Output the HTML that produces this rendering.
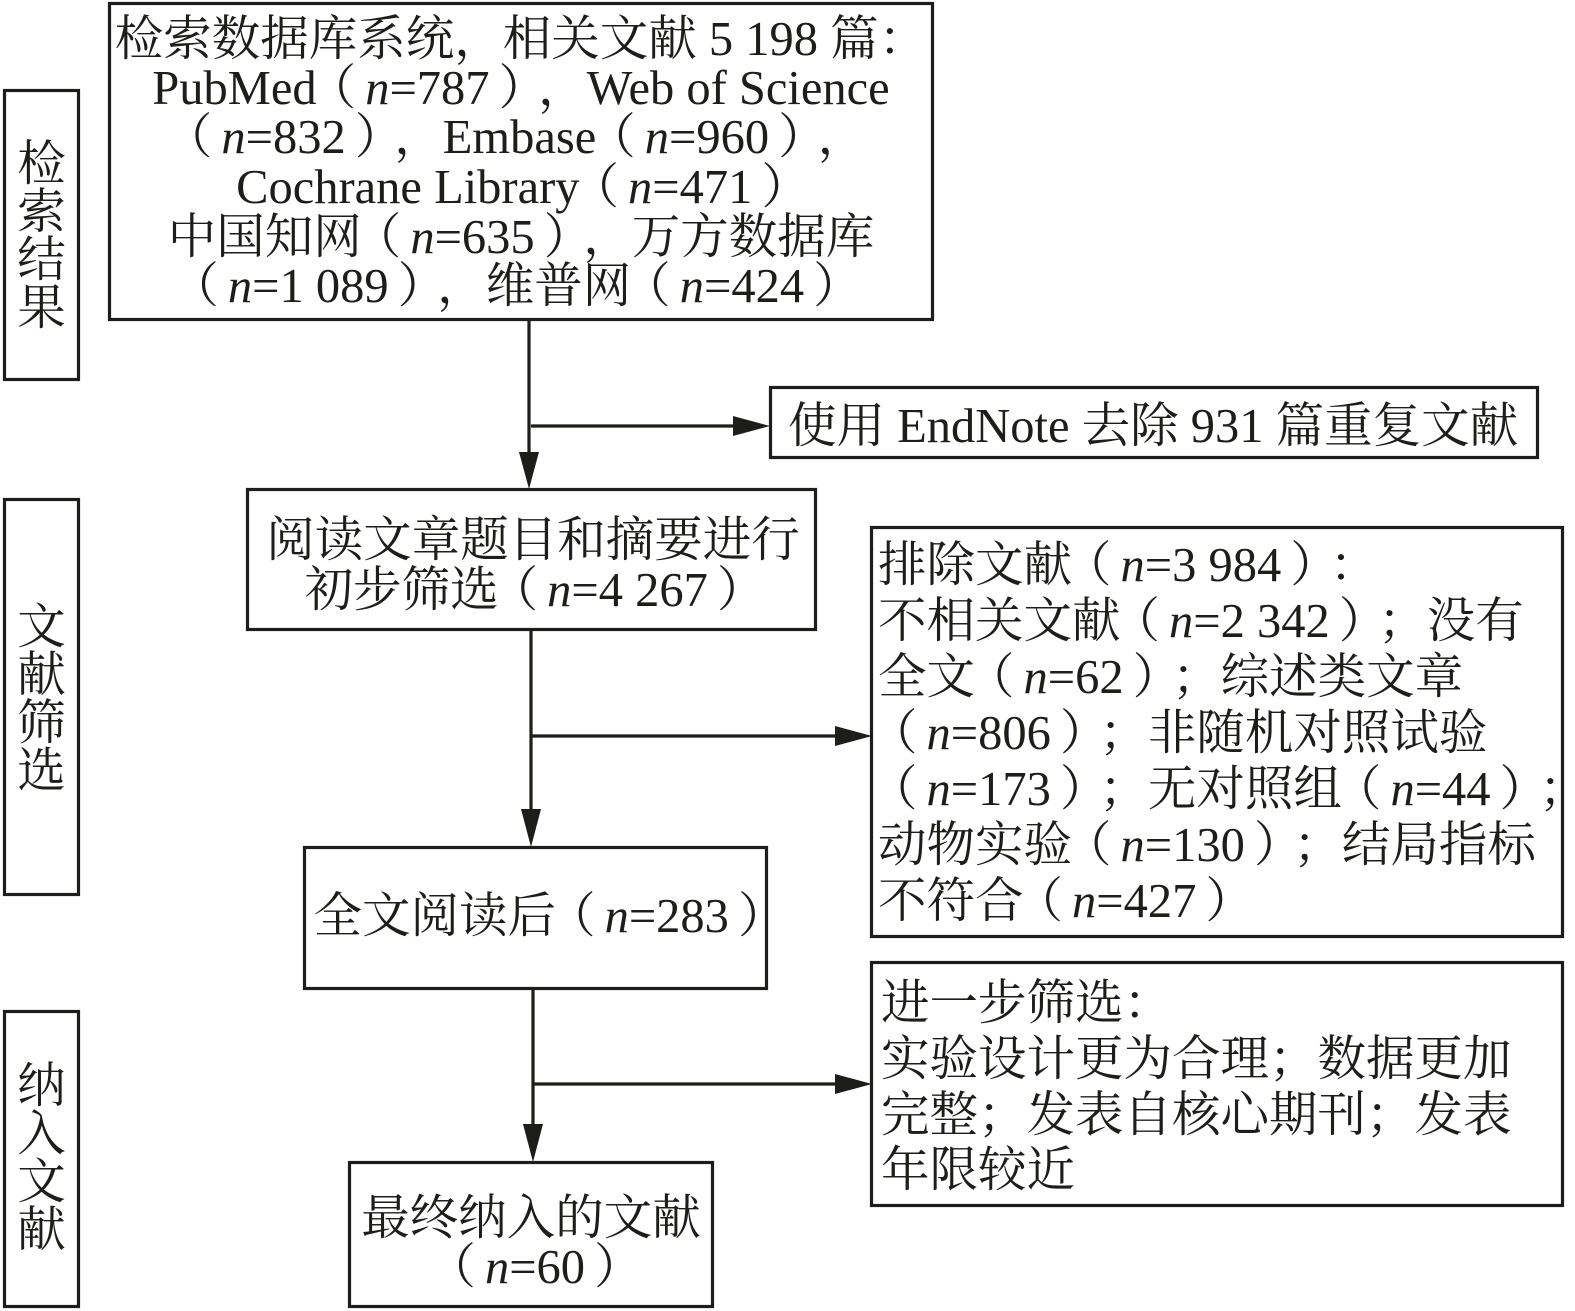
<!DOCTYPE html>
<html>
<head>
<meta charset="utf-8">
<style>
  html, body { margin: 0; padding: 0; background: #ffffff; }
  body { width: 1575px; height: 1311px; overflow: hidden; }
  svg { display: block; text-spacing-trim: space-all; }
  text { font-family: "Liberation Serif", "Noto Serif CJK SC", serif; font-size: 48.5px; fill: #1d1d1b; text-spacing-trim: space-all; }
  .it { font-style: italic; }
  .box { fill: none; stroke: #1d1d1b; stroke-width: 3.2; }
  .ln { stroke: #1d1d1b; stroke-width: 3.2; fill: none; }
  .ah { fill: #1d1d1b; stroke: none; }
</style>
</head>
<body>
<svg width="1575" height="1311" viewBox="0 0 1575 1311" xmlns="http://www.w3.org/2000/svg">
  <!-- Boxes -->
  <rect class="box" x="109.5" y="3.5" width="823" height="316"/>
  <rect class="box" x="4.5" y="90.5" width="74" height="289"/>
  <rect class="box" x="770.5" y="387.5" width="767" height="70"/>
  <rect class="box" x="247.5" y="489.5" width="568" height="140"/>
  <rect class="box" x="4.5" y="499.5" width="74" height="395"/>
  <rect class="box" x="871.5" y="527.5" width="691" height="409"/>
  <rect class="box" x="304.5" y="847.5" width="462" height="141"/>
  <rect class="box" x="871.5" y="962.5" width="691" height="243"/>
  <rect class="box" x="349.5" y="1162.5" width="363" height="144"/>
  <rect class="box" x="4.5" y="1011.5" width="74" height="295"/>

  <!-- Connectors -->
  <line class="ln" x1="529" y1="321" x2="529" y2="455"/>
  <polygon class="ah" points="519,452 539,452 529,489"/>
  <line class="ln" x1="531" y1="426" x2="736" y2="426"/>
  <polygon class="ah" points="733,416 733,436 770,426"/>

  <line class="ln" x1="531" y1="631" x2="531" y2="812"/>
  <polygon class="ah" points="521,809 541,809 531,847"/>
  <line class="ln" x1="531" y1="736" x2="838" y2="736"/>
  <polygon class="ah" points="835,726 835,746 872,736"/>

  <line class="ln" x1="533" y1="990" x2="533" y2="1127"/>
  <polygon class="ah" points="523,1124 543,1124 533,1162"/>
  <line class="ln" x1="533" y1="1084" x2="838" y2="1084"/>
  <polygon class="ah" points="835,1074 835,1094 872,1084"/>

  <!-- Top box text -->
  <text x="521" y="55" text-anchor="middle">检索数据库系统，相关文献 5 198 篇：</text>
  <text x="521" y="104" text-anchor="middle">PubMed<tspan dx="-9">（</tspan><tspan dx="9" class="it">n</tspan>=787<tspan dx="9">）</tspan><tspan dx="-9">，</tspan>Web of Science</text>
  <text x="524" y="153" text-anchor="middle"><tspan dx="-9">（</tspan><tspan dx="9" class="it">n</tspan>=832<tspan dx="9">）</tspan><tspan dx="-9">，</tspan>Embase<tspan dx="-9">（</tspan><tspan dx="9" class="it">n</tspan>=960<tspan dx="9">）</tspan><tspan dx="-9">，</tspan></text>
  <text x="523" y="203" text-anchor="middle">Cochrane Library<tspan dx="-9">（</tspan><tspan dx="9" class="it">n</tspan>=471<tspan dx="9">）</tspan></text>
  <text x="521" y="253" text-anchor="middle">中国知网<tspan dx="-9">（</tspan><tspan dx="9" class="it">n</tspan>=635<tspan dx="9">）</tspan><tspan dx="-9">，</tspan>万方数据库</text>
  <text x="525" y="302" text-anchor="middle"><tspan dx="-9">（</tspan><tspan dx="9" class="it">n</tspan>=1 089<tspan dx="9">）</tspan><tspan dx="-9">，</tspan>维普网<tspan dx="-9">（</tspan><tspan dx="9" class="it">n</tspan>=424<tspan dx="9">）</tspan></text>

  <!-- Left labels -->
  <text x="41.5" y="180" text-anchor="middle">检</text>
  <text x="41.5" y="228" text-anchor="middle">索</text>
  <text x="41.5" y="276" text-anchor="middle">结</text>
  <text x="41.5" y="324" text-anchor="middle">果</text>

  <text x="41.5" y="643" text-anchor="middle">文</text>
  <text x="41.5" y="691" text-anchor="middle">献</text>
  <text x="41.5" y="739" text-anchor="middle">筛</text>
  <text x="41.5" y="787" text-anchor="middle">选</text>

  <text x="41.5" y="1102" text-anchor="middle">纳</text>
  <text x="41.5" y="1150" text-anchor="middle">入</text>
  <text x="41.5" y="1198" text-anchor="middle">文</text>
  <text x="41.5" y="1246" text-anchor="middle">献</text>

  <!-- EndNote box -->
  <text x="788" y="442">使用 EndNote 去除 931 篇重复文献</text>

  <!-- Box 2 -->
  <text x="533" y="556" text-anchor="middle">阅读文章题目和摘要进行</text>
  <text x="535" y="606" text-anchor="middle">初步筛选<tspan dx="-9">（</tspan><tspan dx="9" class="it">n</tspan>=4 267<tspan dx="9">）</tspan></text>

  <!-- Exclusion box -->
  <text x="878" y="581">排除文献<tspan dx="-9">（</tspan><tspan dx="9" class="it">n</tspan>=3 984<tspan dx="9">）</tspan><tspan dx="-9">：</tspan></text>
  <text x="878" y="637">不相关文献<tspan dx="-9">（</tspan><tspan dx="9" class="it">n</tspan>=2 342<tspan dx="9">）</tspan><tspan dx="-9">；</tspan>没有</text>
  <text x="878" y="693">全文<tspan dx="-9">（</tspan><tspan dx="9" class="it">n</tspan>=62<tspan dx="9">）</tspan><tspan dx="-9">；</tspan>综述类文章</text>
  <text x="878" y="749"><tspan dx="-9">（</tspan><tspan dx="9" class="it">n</tspan>=806<tspan dx="9">）</tspan><tspan dx="-9">；</tspan>非随机对照试验</text>
  <text x="878" y="805"><tspan dx="-9">（</tspan><tspan dx="9" class="it">n</tspan>=173<tspan dx="9">）</tspan><tspan dx="-9">；</tspan>无对照组<tspan dx="-9">（</tspan><tspan dx="9" class="it">n</tspan>=44<tspan dx="9">）</tspan><tspan dx="-9">；</tspan></text>
  <text x="878" y="861">动物实验<tspan dx="-9">（</tspan><tspan dx="9" class="it">n</tspan>=130<tspan dx="9">）</tspan><tspan dx="-9">；</tspan>结局指标</text>
  <text x="878" y="917">不符合<tspan dx="-9">（</tspan><tspan dx="9" class="it">n</tspan>=427<tspan dx="9">）</tspan></text>

  <!-- Box 3 -->
  <text x="550" y="932" text-anchor="middle">全文阅读后<tspan dx="-9">（</tspan><tspan dx="9" class="it">n</tspan>=283<tspan dx="9">）</tspan></text>

  <!-- Further screening box -->
  <text x="881" y="1019">进一步筛选：</text>
  <text x="881" y="1075">实验设计更为合理；数据更加</text>
  <text x="881" y="1131">完整；发表自核心期刊；发表</text>
  <text x="881" y="1186">年限较近</text>

  <!-- Box 4 -->
  <text x="531" y="1234" text-anchor="middle">最终纳入的文献</text>
  <text x="544" y="1283" text-anchor="middle"><tspan dx="-9">（</tspan><tspan dx="9" class="it">n</tspan>=60<tspan dx="9">）</tspan></text>
</svg>
</body>
</html>
